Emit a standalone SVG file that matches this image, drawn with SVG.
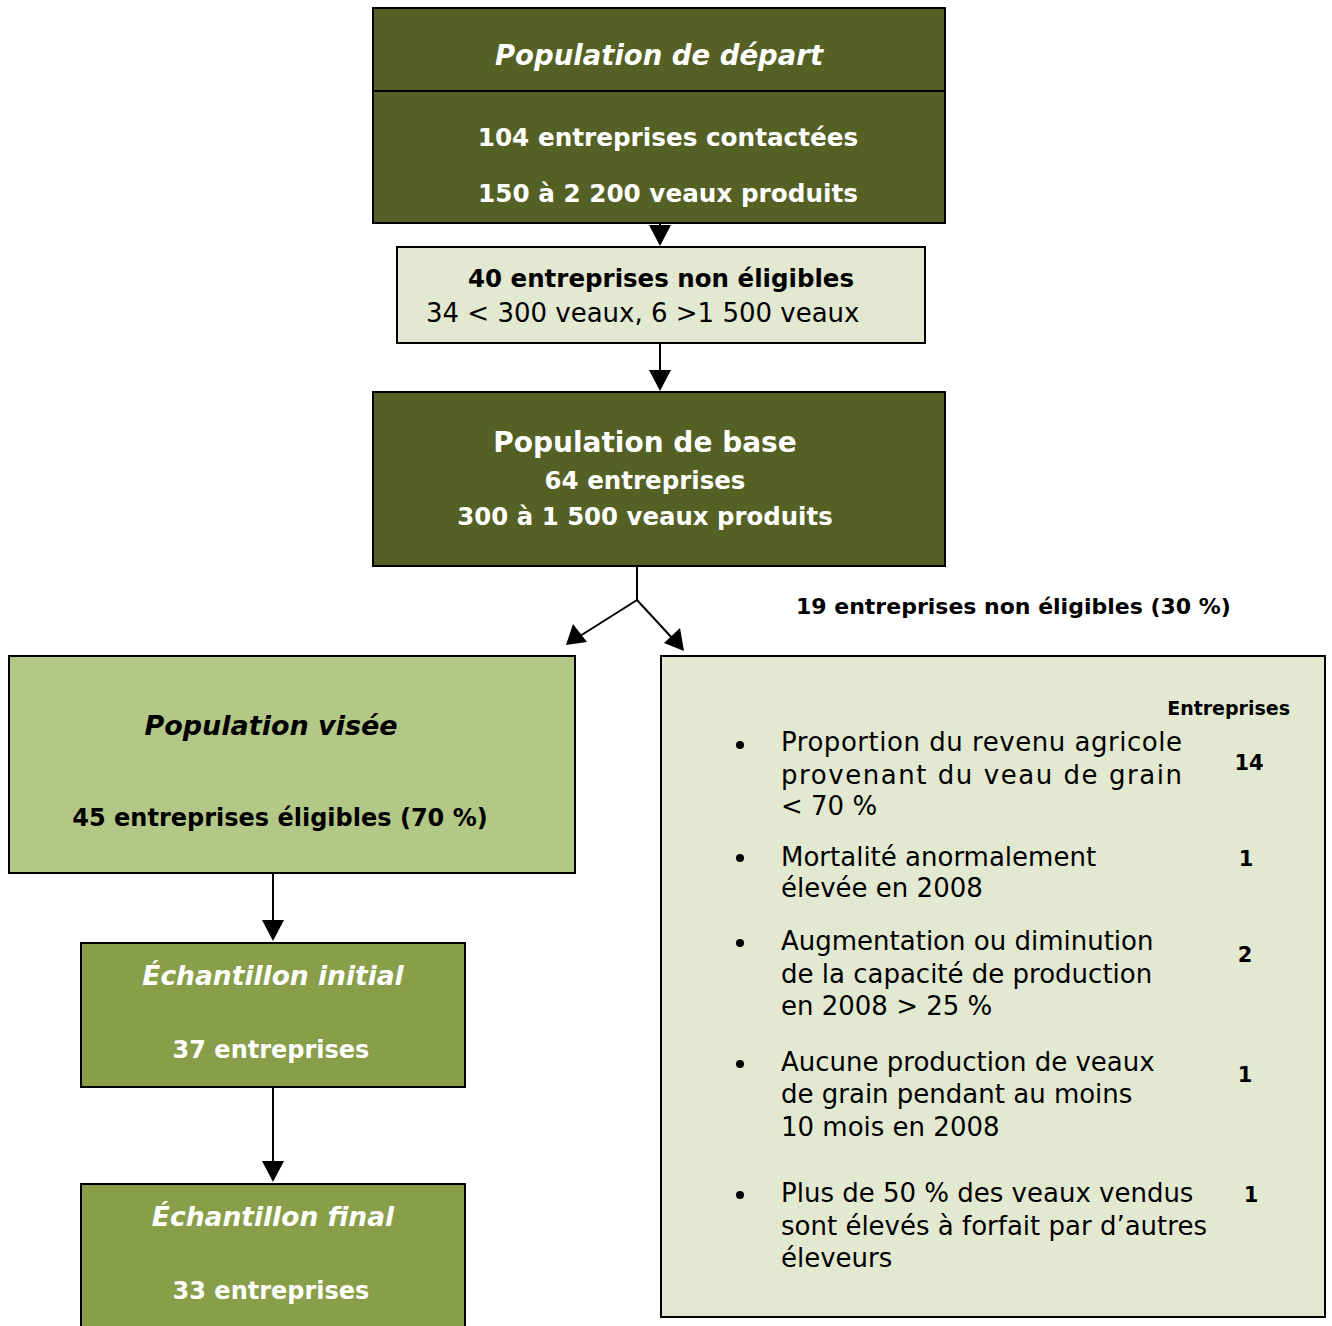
<svg xmlns="http://www.w3.org/2000/svg" width="1332" height="1326" viewBox="0 0 1332 1326">
<defs>
<style>
text{font-family:"DejaVu Sans","Liberation Sans",sans-serif}
.box{stroke:#000;stroke-width:2}
.dark{fill:#556024}
.light{fill:#e3e8d0}
.mid{fill:#b3c787}
.green{fill:#889e49}
.w{fill:#fff}
.b{font-weight:bold}
.i{font-style:italic}
.c{text-anchor:middle}
.conn{stroke:#000;stroke-width:2;fill:none}
.t{font-size:26px;fill:#000}
.n{font-size:21px;font-weight:bold;text-anchor:middle}
</style>
</defs>
<rect width="1332" height="1326" fill="#fff"/>
<g id="connectors">
<line class="conn" x1="660" y1="223" x2="660" y2="226"/>
<path d="M649,225 L671,225 L660,246 z" fill="#000"/>
<line class="conn" x1="660" y1="343" x2="660" y2="372"/>
<path d="M649,370 L671,370 L660,391 z" fill="#000"/>
<polyline class="conn" points="637,566 637,600 580,636"/>
<path d="M566,645 L573,624 L587,642 z" fill="#000"/>
<line class="conn" x1="637" y1="600" x2="673" y2="639"/>
<path d="M684,651 L664,643 L680,628 z" fill="#000"/>
<line class="conn" x1="273" y1="873" x2="273" y2="922"/>
<path d="M262,920 L284,920 L273,941 z" fill="#000"/>
<line class="conn" x1="273" y1="1087" x2="273" y2="1163"/>
<path d="M262,1161 L284,1161 L273,1182 z" fill="#000"/>
</g>
<g id="node-depart">
<rect class="box dark" x="373" y="8" width="572" height="215"/>
<line x1="373" y1="91" x2="945" y2="91" stroke="#000" stroke-width="2"/>
<text class="w b i c" x="659" y="65" font-size="27.5">Population de départ</text>
<text class="w b c" x="668" y="146" font-size="24.7">104 entreprises contactées</text>
<text class="w b c" x="668" y="202" font-size="24.7">150 à 2 200 veaux produits</text>
</g>
<g id="node-non-eligibles-40">
<rect class="box light" x="397" y="247" width="528" height="96"/>
<text class="b c" x="661" y="287" font-size="24.5">40 entreprises non éligibles</text>
<text x="426" y="322" font-size="26">34 &lt; 300 veaux, 6 &gt;1 500 veaux</text>
</g>
<g id="node-base">
<rect class="box dark" x="373" y="392" width="572" height="174"/>
<text class="w b c" x="645" y="452" font-size="28">Population de base</text>
<text class="w b c" x="645" y="489" font-size="24.5">64 entreprises</text>
<text class="w b c" x="645" y="525" font-size="24.4">300 à 1 500 veaux produits</text>
</g>
<text id="label-19" class="b" x="796" y="614" font-size="22">19 entreprises non éligibles (30 %)</text>
<g id="node-visee">
<rect class="box mid" x="9" y="656" width="566" height="217"/>
<text class="b i c" x="271" y="735" font-size="27">Population visée</text>
<text class="b c" x="280" y="826" font-size="24">45 entreprises éligibles (70 %)</text>
</g>
<g id="node-initial">
<rect class="box green" x="81" y="943" width="384" height="144"/>
<text class="w i c" x="273" y="985" font-size="26.5" font-weight="600">Échantillon initial</text>
<text class="w b c" x="271" y="1058" font-size="24">37 entreprises</text>
</g>
<g id="node-final">
<rect class="box green" x="81" y="1184" width="384" height="150"/>
<text class="w i c" x="273" y="1226" font-size="26.5" font-weight="600">Échantillon final</text>
<text class="w b c" x="271" y="1299" font-size="24">33 entreprises</text>
</g>
<g id="node-criteres">
<rect class="box light" x="661" y="656" width="664" height="661"/>
<text class="b" x="1290" y="715" font-size="19" text-anchor="end">Entreprises</text>
<circle cx="740" cy="745" r="4"/>
<text class="t" x="781" y="751" textLength="401" lengthAdjust="spacing">Proportion du revenu agricole</text>
<text class="t" x="781" y="784" textLength="401" lengthAdjust="spacing">provenant du veau de grain</text>
<text class="t" x="781" y="815">&lt; 70 %</text>
<text class="n" x="1249" y="770">14</text>
<circle cx="740" cy="858" r="4"/>
<text class="t" x="781" y="866">Mortalité anormalement</text>
<text class="t" x="781" y="897">élevée en 2008</text>
<text class="n" x="1246" y="866">1</text>
<circle cx="740" cy="943" r="4"/>
<text class="t" x="781" y="950">Augmentation ou diminution</text>
<text class="t" x="781" y="983">de la capacité de production</text>
<text class="t" x="781" y="1015">en 2008 &gt; 25 %</text>
<text class="n" x="1245" y="962">2</text>
<circle cx="740" cy="1064" r="4"/>
<text class="t" x="781" y="1071">Aucune production de veaux</text>
<text class="t" x="781" y="1103">de grain pendant au moins</text>
<text class="t" x="781" y="1136">10 mois en 2008</text>
<text class="n" x="1245" y="1082">1</text>
<circle cx="740" cy="1195" r="4"/>
<text class="t" x="781" y="1202">Plus de 50 % des veaux vendus</text>
<text class="t" x="781" y="1235">sont élevés à forfait par d’autres</text>
<text class="t" x="781" y="1267">éleveurs</text>
<text class="n" x="1251" y="1202">1</text>
</g>
</svg>
